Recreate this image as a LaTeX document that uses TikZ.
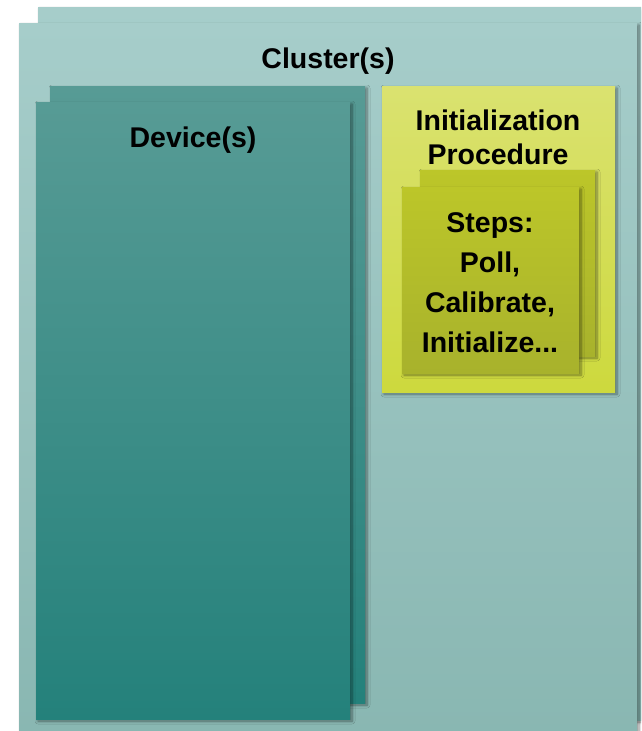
\documentclass[tikz,border=0pt]{standalone}
\usepackage{fontspec}
\setmainfont{Liberation Sans}
\usetikzlibrary{shadows.blur}
\definecolor{clTop}{HTML}{A6CDCA}
\definecolor{clBot}{HTML}{88B6B1}
\definecolor{dvTop}{HTML}{579B95}
\definecolor{dvBot}{HTML}{24817B}
\definecolor{inTop}{HTML}{DAE270}
\definecolor{inBot}{HTML}{CDD93D}
\definecolor{stTop}{HTML}{BCC629}
\definecolor{stBot}{HTML}{A8B22C}
\tikzset{
  panel/.style={rectangle, inner sep=0pt, outer sep=0pt, anchor=north west,
    blur shadow={shadow xshift=2pt, shadow yshift=-2pt, shadow blur steps=6,
      shadow blur radius=3pt, shadow opacity=45}},
  cluster/.style={panel, top color=clTop, bottom color=clBot},
  device/.style={panel, top color=dvTop, bottom color=dvBot},
  initbox/.style={panel, top color=inTop, bottom color=inBot},
  stepsbox/.style={panel, top color=stTop, bottom color=stBot},
  label/.style={font=\bfseries\fontsize{28.5}{34}\selectfont, text=black,
    inner sep=0pt, align=center},
}
\newcommand{\boxat}[6]{%
  \node[#1, minimum width=#5-#3, minimum height=#6-#4] (#2) at (#3,#4) {};}
\begin{document}
\begin{tikzpicture}[x=1pt,y=-1pt]
  \useasboundingbox (0,0) rectangle (641,731);
  \clip (0,0) rectangle (641,731);
  % clusters (stacked)
  \boxat{cluster}{clusterback}{38}{7}{680}{720}
  \boxat{cluster}{cluster}{19}{23}{637}{760}
  % devices (stacked)
  \boxat{device}{deviceback}{50}{86}{365}{703}
  \boxat{device}{device}{36}{102}{350}{719}
  % initialization procedure
  \boxat{initbox}{init}{382}{86}{615}{392}
  \boxat{stepsbox}{stepsback}{420}{170}{595}{356}
  \boxat{stepsbox}{steps}{402}{187}{579}{373}
  % labels
  \node[label, anchor=base] (clusterlbl) at (328,68) {Cluster(s)};
  \node[label, anchor=base] (devicelbl) at (193,147) {Device(s)};
  \node[label, anchor=base] (initlbl1) at (498,130) {Initialization};
  \node[label, anchor=base] (initlbl2) at (498,164) {Procedure};
  \node[label, anchor=base] (st1) at (490,232) {Steps:};
  \node[label, anchor=base] (st2) at (490,272) {Poll,};
  \node[label, anchor=base] (st3) at (490,312) {Calibrate,};
  \node[label, anchor=base] (st4) at (490,352) {Initialize...};
\end{tikzpicture}
\end{document}
